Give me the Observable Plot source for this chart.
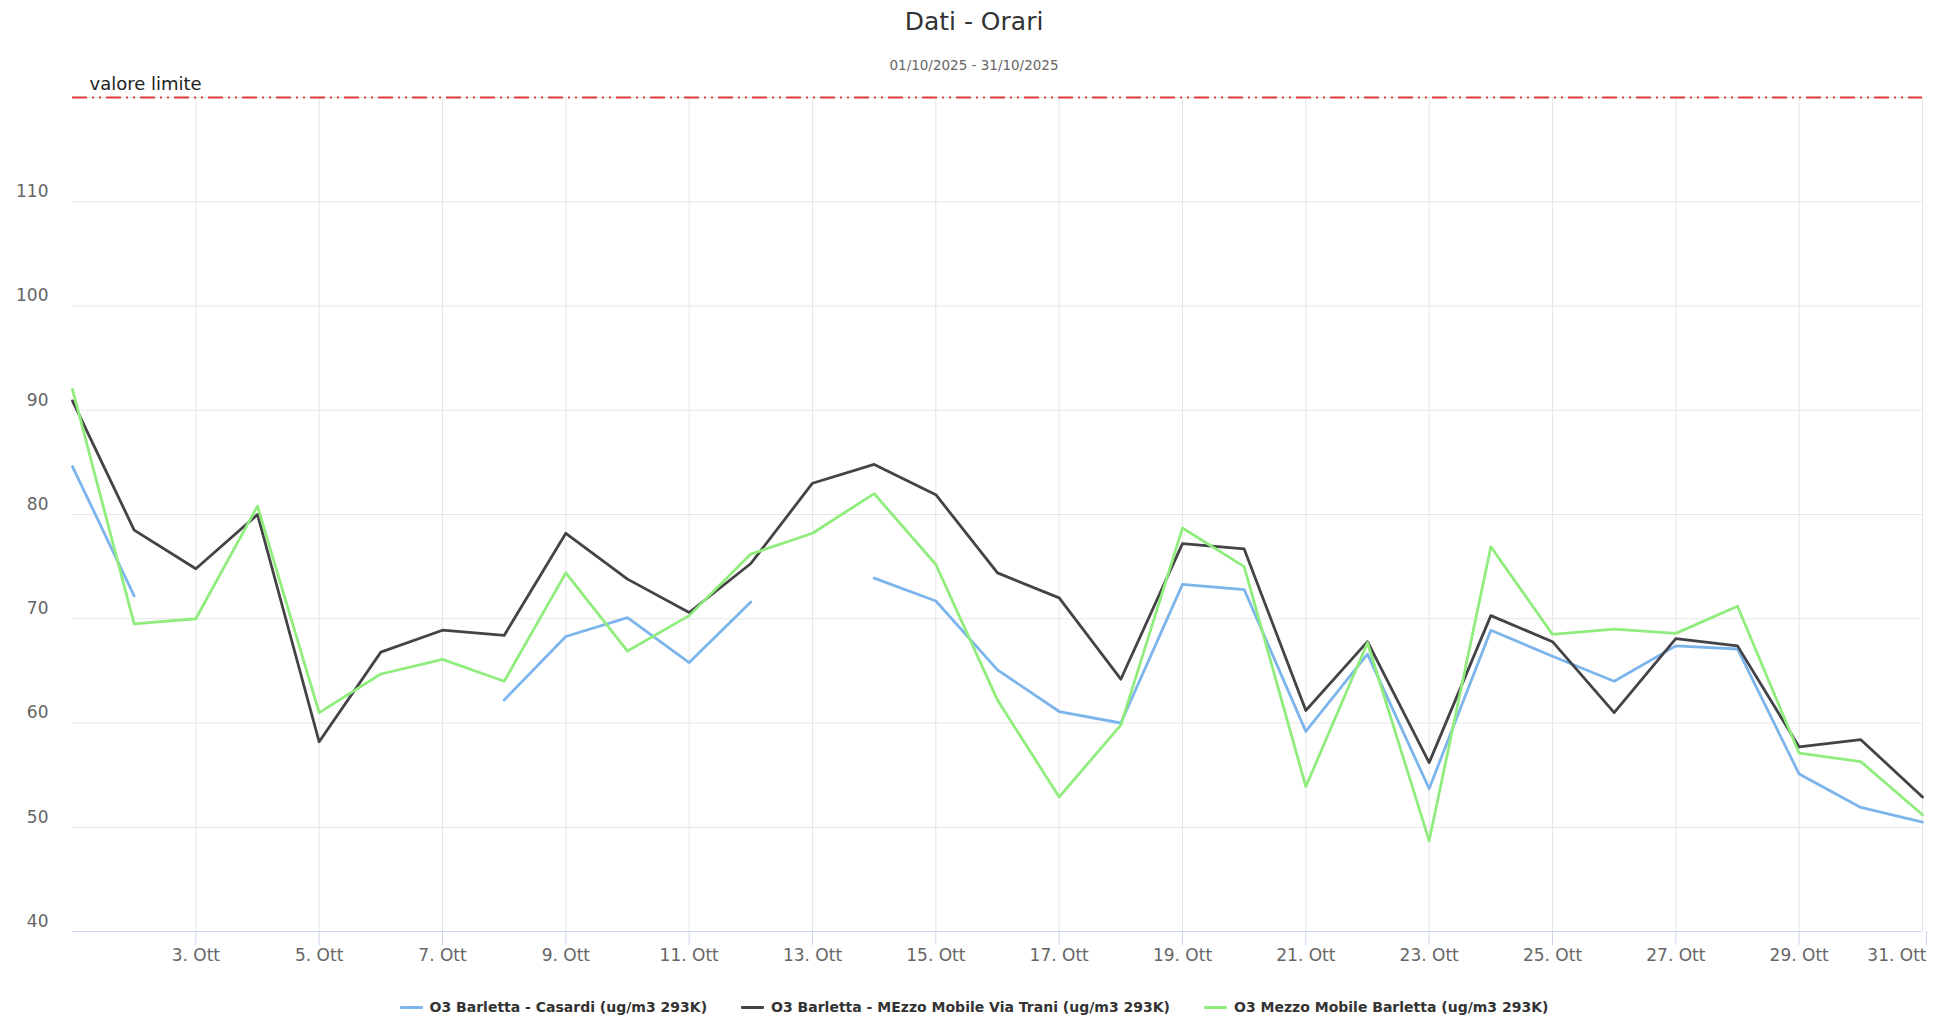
<!DOCTYPE html>
<html>
<head>
<meta charset="utf-8">
<script src="https://cdn.jsdelivr.net/npm/d3@7"></script>
<script src="https://cdn.jsdelivr.net/npm/@observablehq/plot@0.6"></script>
<style>
  html, body { margin: 0; padding: 0; background: #fff; }
  body { width: 1948px; height: 1016px; overflow: hidden; font-family: "DejaVu Sans", sans-serif; }
  #header { position: relative; height: 70px; }
  #title { position: absolute; left: 0; right: 0; top: 6px; text-align: center; font-size: 25px; color: #333; line-height: 32px; }
  #subtitle { position: absolute; left: 0; right: 0; top: 57px; text-align: center; font-size: 13.5px; color: #666; line-height: 16px; }
  #legend { display: flex; justify-content: center; gap: 34px; margin-top: 22px; height: 20px; line-height: 20px; font-size: 14px; font-weight: bold; color: #333; }
  .item { display: flex; align-items: center; }
  .sw { width: 23px; height: 3px; margin-right: 7px; border-radius: 1px; }
</style>
</head>
<body>
<div id="header"><div id="title"></div><div id="subtitle"></div></div>
<div id="chart"></div>
<div id="legend"></div>
<script>
const titleText = "Dati - Orari";
const subtitleText = "01/10/2025 - 31/10/2025";
const limitLabel = "valore limite";
const limitValue = 120;

const dayNumbers = d3.range(1, 32);
const tickDays = [3, 5, 7, 9, 11, 13, 15, 17, 19, 21, 23, 25, 27, 29, 31];
const yTicks = [40, 50, 60, 70, 80, 90, 100, 110];
const yGrid = [50, 60, 70, 80, 90, 100, 110, 120];

const seriesNames = [
  "O3 Barletta - Casardi (ug/m3 293K)",
  "O3 Barletta - MEzzo Mobile Via Trani (ug/m3 293K)",
  "O3 Mezzo Mobile Barletta (ug/m3 293K)"
];
const seriesColors = ["#7cb5ec", "#434348", "#90ed7d"];

const casardi = [84.6, 72.2, null, null, null, null, null, 62.2, 68.3, 70.1, 65.8, 71.6, null, 73.9, 71.7, 65.1, 61.1, 60.0, 73.3, 72.8, 59.2, 66.6, 53.7, 68.9, 66.4, 64.0, 67.4, 67.1, 55.1, 51.9, 50.5];
const viaTrani = [90.9, 78.5, 74.8, 80.0, 58.2, 66.8, 68.9, 68.4, 78.2, 73.8, 70.6, 75.3, 83.0, 84.8, 81.9, 74.4, 72.0, 64.2, 77.2, 76.7, 61.2, 67.8, 56.2, 70.3, 67.8, 61.0, 68.1, 67.4, 57.7, 58.4, 52.9];
const mezzoMobile = [92.0, 69.5, 70.0, 80.8, 61.0, 64.7, 66.1, 64.0, 74.4, 66.9, 70.3, 76.2, 78.2, 82.0, 75.2, 62.2, 52.9, 59.8, 78.7, 75.0, 53.9, 67.7, 48.7, 76.9, 68.5, 69.0, 68.6, 71.2, 57.1, 56.3, 51.2];

const seriesValues = [casardi, viaTrani, mezzoMobile];
const dateOf = d => new Date(Date.UTC(2025, 9, d));
const dates = dayNumbers.map(dateOf);
const tickDates = tickDays.map(dateOf);
const fmt = d => `${d.getUTCDate()}. Ott`;

const data = seriesNames.flatMap((name, s) =>
  seriesValues[s].map((v, i) => ({date: dates[i], value: v, series: name}))
);

document.getElementById("title").textContent = titleText;
document.getElementById("subtitle").textContent = subtitleText;

const chart = Plot.plot({
  width: 1948,
  height: 905,
  marginLeft: 72,
  marginRight: 26,
  marginTop: 27,
  marginBottom: 44,
  style: {fontFamily: "DejaVu Sans", fontSize: "17px", overflow: "visible", background: "#fff"},
  x: {type: "utc", domain: [dates[0], dates[dates.length - 1]]},
  y: {domain: [40, limitValue]},
  color: {domain: seriesNames, range: seriesColors},
  marks: [
    Plot.gridY(yGrid, {stroke: "#e6e6e6", strokeOpacity: 1}),
    Plot.gridX(tickDates, {stroke: "#e6e6e6", strokeOpacity: 1}),
    Plot.ruleY([40], {stroke: "#ccd6eb", strokeWidth: 1}),
    Plot.axisX(tickDates.slice(0, -1), {
      tickFormat: fmt, tickSize: 14, tickPadding: 3, stroke: "#ccd6eb", fill: "#666", label: null
    }),
    Plot.axisX(tickDates.slice(-1), {
      tickFormat: fmt, tickSize: 14, tickPadding: 3, stroke: "#ccd6eb", fill: "#666", label: null,
      textAnchor: "end", dx: 4
    }),
    Plot.axisY(yTicks, {tickSize: 0, tickPadding: 24, dy: -10, fill: "#666", label: null}),
    Plot.ruleY([limitValue], {stroke: "#e23b3b", strokeWidth: 2, strokeDasharray: "15,5,2,5,2,5"}),
    Plot.text([limitLabel], {
      x: () => dates[0], y: () => limitValue, text: d => d,
      textAnchor: "start", dx: 17, dy: -13, fontSize: 18, fill: "#222"
    }),
    Plot.line(data, {x: "date", y: "value", z: "series", stroke: "series", strokeWidth: 2.8, curve: "linear"})
  ]
});
document.getElementById("chart").appendChild(chart);

const legend = document.getElementById("legend");
seriesNames.forEach((name, i) => {
  const item = document.createElement("div");
  item.className = "item";
  const sw = document.createElement("span");
  sw.className = "sw";
  sw.style.background = seriesColors[i];
  const label = document.createElement("span");
  label.textContent = name;
  item.appendChild(sw);
  item.appendChild(label);
  legend.appendChild(item);
});
</script>
</body>
</html>
